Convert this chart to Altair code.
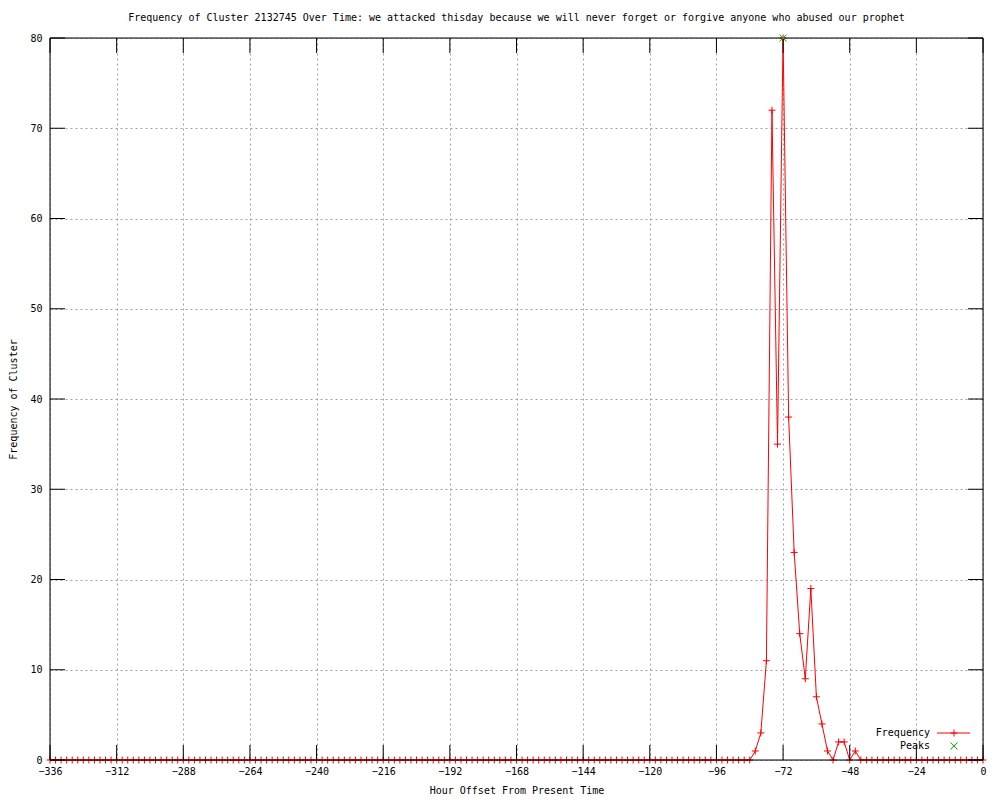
import altair as alt
import pandas as pd

# ---- data ----
hours = list(range(-336, 1, 2))
frequency = [
    0, 0, 0, 0, 0, 0, 0, 0, 0, 0, 0, 0,      # -336 .. -314
    0, 0, 0, 0, 0, 0, 0, 0, 0, 0, 0, 0,      # -312 .. -290
    0, 0, 0, 0, 0, 0, 0, 0, 0, 0, 0, 0,      # -288 .. -266
    0, 0, 0, 0, 0, 0, 0, 0, 0, 0, 0, 0,      # -264 .. -242
    0, 0, 0, 0, 0, 0, 0, 0, 0, 0, 0, 0,      # -240 .. -218
    0, 0, 0, 0, 0, 0, 0, 0, 0, 0, 0, 0,      # -216 .. -194
    0, 0, 0, 0, 0, 0, 0, 0, 0, 0, 0, 0,      # -192 .. -170
    0, 0, 0, 0, 0, 0, 0, 0, 0, 0, 0, 0,      # -168 .. -146
    0, 0, 0, 0, 0, 0, 0, 0, 0, 0, 0, 0,      # -144 .. -122
    0, 0, 0, 0, 0, 0, 0, 0, 0, 0, 0, 0,      # -120 .. -98
    0, 0, 0, 0, 0, 0, 0, 1, 3, 11, 72, 35,   # -96 .. -74
    80, 38, 23, 14, 9, 19, 7, 4, 1, 0, 2, 2,  # -72 .. -50
    0, 1, 0, 0, 0, 0, 0, 0, 0, 0, 0, 0,      # -48 .. -26
    0, 0, 0, 0, 0, 0, 0, 0, 0, 0, 0, 0,      # -24 .. -2
    0,                                        # 0
]
peak_hours = [-72]
peak_values = [80]
x_ticks = [-336, -312, -288, -264, -240, -216, -192, -168, -144, -120, -96, -72, -48, -24, 0]
y_ticks = [0, 10, 20, 30, 40, 50, 60, 70, 80]

title_text = ("Frequency of Cluster 2132745 Over Time: we attacked thisday because "
              "we will never forget or forgive anyone who abused our prophet")
legend_labels = ["Frequency", "Peaks"]

W, H = 933, 722
FONT = "DejaVu Sans Mono"
PLUS = "M-1,0L1,0M0,-1L0,1"
XMARK = "M-1,-1L1,1M-1,1L1,-1"
TICK = 15

df = pd.DataFrame({"hour": hours, "freq": frequency})
peaks = pd.DataFrame({"hour": peak_hours, "freq": peak_values})
xt = pd.DataFrame({"t": x_ticks})
yt = pd.DataFrame({"t": y_ticks})
one = pd.DataFrame({"a": [0]})

xscale = alt.Scale(domain=[-336, 0], nice=False, zero=False)
yscale = alt.Scale(domain=[0, 80], nice=False)

xaxis = alt.Axis(values=x_ticks, format="d", grid=True, gridColor="#a0a0a0",
                 gridDash=[2, 3], ticks=False, domain=False, labelFlush=False,
                 labelOverlap=False, labelPadding=6, labelFont=FONT, labelFontSize=10,
                 labelColor="black", title="Hour Offset From Present Time",
                 titleFont=FONT, titleFontSize=10, titleFontWeight="normal",
                 titleColor="black", titlePadding=9)
yaxis = alt.Axis(values=y_ticks, format="d", grid=True, gridColor="#a0a0a0",
                 gridDash=[2, 3], ticks=False, domain=False, labelFlush=False,
                 labelOverlap=False, labelPadding=8, labelFont=FONT, labelFontSize=10,
                 labelColor="black", title="Frequency of Cluster",
                 titleFont=FONT, titleFontSize=10, titleFontWeight="normal",
                 titleColor="black", titlePadding=11)

base = alt.Chart(df)

line = base.mark_line(color="red", strokeWidth=1).encode(
    x=alt.X("hour:Q", scale=xscale, axis=xaxis),
    y=alt.Y("freq:Q", scale=yscale, axis=yaxis),
)
pts = base.mark_point(shape=PLUS, size=49, filled=False, stroke="red",
                      strokeWidth=1, opacity=1).encode(
    x=alt.X("hour:Q", scale=xscale), y=alt.Y("freq:Q", scale=yscale))
peak = alt.Chart(peaks).mark_point(shape=XMARK, size=49, filled=False,
                                   stroke="#00c000", strokeWidth=1, opacity=1,
                                   clip=False).encode(
    x=alt.X("hour:Q", scale=xscale), y=alt.Y("freq:Q", scale=yscale))

# inward major ticks on all four sides
tb = alt.Chart(xt).mark_rule(color="black", strokeWidth=1).encode(
    x=alt.X("t:Q", scale=xscale), y=alt.value(H), y2=alt.value(H - TICK))
tt = alt.Chart(xt).mark_rule(color="black", strokeWidth=1).encode(
    x=alt.X("t:Q", scale=xscale), y=alt.value(0), y2=alt.value(TICK))
tl = alt.Chart(yt).mark_rule(color="black", strokeWidth=1).encode(
    y=alt.Y("t:Q", scale=yscale), x=alt.value(0), x2=alt.value(TICK))
tr = alt.Chart(yt).mark_rule(color="black", strokeWidth=1).encode(
    y=alt.Y("t:Q", scale=yscale), x=alt.value(W), x2=alt.value(W - TICK))

border = alt.Chart(one).mark_rect(fillOpacity=0, stroke="black", strokeWidth=1).encode(
    x=alt.value(0), x2=alt.value(W), y=alt.value(0), y2=alt.value(H))

# legend (bottom right, gnuplot style)
lt1 = alt.Chart(one).mark_text(align="right", baseline="middle", font=FONT,
                               fontSize=10, color="black").encode(
    x=alt.value(880), y=alt.value(695), text=alt.value(legend_labels[0]))
lt2 = alt.Chart(one).mark_text(align="right", baseline="middle", font=FONT,
                               fontSize=10, color="black").encode(
    x=alt.value(880), y=alt.value(708), text=alt.value(legend_labels[1]))
ll = alt.Chart(one).mark_rule(color="red", strokeWidth=1).encode(
    x=alt.value(887), x2=alt.value(920), y=alt.value(695))
lp = alt.Chart(one).mark_point(shape=PLUS, size=49, filled=False, stroke="red",
                               strokeWidth=1, opacity=1).encode(
    x=alt.value(904), y=alt.value(695))
lx = alt.Chart(one).mark_point(shape=XMARK, size=49, filled=False, stroke="#00c000",
                               strokeWidth=1, opacity=1).encode(
    x=alt.value(904), y=alt.value(708))

chart = alt.layer(line, pts, tb, tt, tl, tr, border, peak, lt1, lt2, ll, lp, lx).properties(
    width=W, height=H,
    title=alt.TitleParams(title_text, font=FONT, fontSize=10, fontWeight="normal",
                          color="black", anchor="middle", offset=10),
    autosize=alt.AutoSizeParams(type="none"),
    padding={"left": 42, "top": 30, "right": 9, "bottom": 34},
).configure_view(stroke="black", strokeWidth=1).configure(background="white")

chart.save("out.html", embed_options={"renderer": "svg", "actions": False})
